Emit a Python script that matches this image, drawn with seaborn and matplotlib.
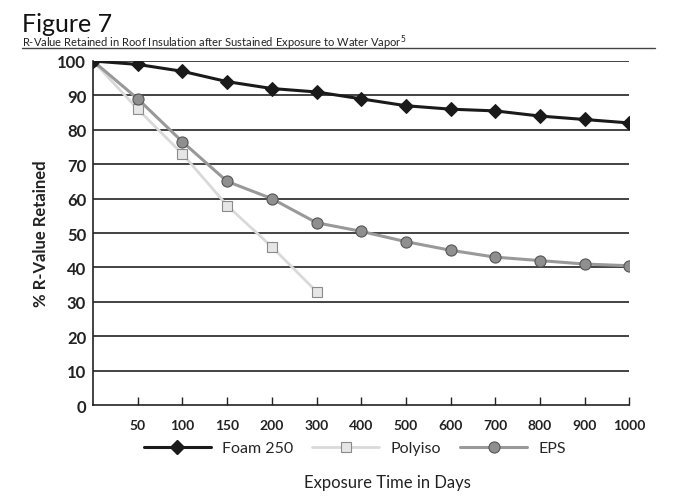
import matplotlib
matplotlib.use("Agg")
import matplotlib.pyplot as plt
import seaborn as sns
import numpy as np
import pandas as pd
from matplotlib.lines import Line2D

days = ["0", "50", "100", "150", "200", "300", "400", "500", "600", "700", "800", "900", "1000"]
foam250 = [100, 99, 97, 94, 92, 91, 89, 87, 86, 85.5, 84, 83, 82]
polyiso = [100, 86, 73, 58, 46, 33]
eps = [100, 89, 76.5, 65, 60, 53, 50.5, 47.5, 45, 43, 42, 41, 40.5]
yticks = [0, 10, 20, 30, 40, 50, 60, 70, 80, 90, 100]

sns.set_theme(style="white")
plt.rcParams["font.family"] = ["Lato", "DejaVu Sans"]

fig = plt.figure(figsize=(7.0, 5.02), dpi=100)
ax = fig.add_axes([0.133, 0.191, 0.766, 0.6855])

pos = np.arange(len(days))
df_f = pd.DataFrame({"x": pos, "y": foam250})
df_p = pd.DataFrame({"x": pos[:len(polyiso)], "y": polyiso})
df_e = pd.DataFrame({"x": pos, "y": eps})

for v in yticks[1:]:
    ax.axhline(v, color="#222222", lw=1.2, zorder=1)

sns.lineplot(data=df_p, x="x", y="y", ax=ax, color="#d9d9d9", lw=2, marker="s",
             markersize=7, markerfacecolor="#e6e6e6", markeredgecolor="#8a8a8a",
             markeredgewidth=0.8, zorder=3)
sns.lineplot(data=df_e, x="x", y="y", ax=ax, color="#999999", lw=2.2, marker="o",
             markersize=8, markerfacecolor="#8f8f8f", markeredgecolor="#555555",
             markeredgewidth=0.8, zorder=4)
sns.lineplot(data=df_f, x="x", y="y", ax=ax, color="#1a1a1a", lw=2.2, marker="D",
             markersize=7, markerfacecolor="#1a1a1a", markeredgecolor="#1a1a1a", zorder=5)

ax.set_xlim(0, len(days) - 1)
ax.set_ylim(0, 100)
ax.set_xticks(pos[1:])
ax.set_xticklabels(days[1:], fontsize=10, fontweight="bold", color="#222222")
ax.set_yticks(yticks)
ax.set_yticklabels([str(v) for v in yticks], fontsize=12, fontweight="bold", color="#222222")
ax.tick_params(axis="x", direction="in", length=6, width=1, color="#222222", pad=10, bottom=True)
ax.tick_params(axis="y", length=0, pad=5)
for s in ["top", "right"]:
    ax.spines[s].set_visible(False)
for s in ["left", "bottom"]:
    ax.spines[s].set_color("#222222")
    ax.spines[s].set_linewidth(1.2)
ax.set_xlabel("")
ax.set_ylabel("% R-Value Retained", fontsize=12, fontweight="bold", color="#222222", labelpad=6)

handles = [
    Line2D([], [], color="#1a1a1a", lw=2.2, marker="D", markersize=7, markerfacecolor="#1a1a1a"),
    Line2D([], [], color="#d9d9d9", lw=2, marker="s", markersize=7, markerfacecolor="#e6e6e6",
           markeredgecolor="#8a8a8a", markeredgewidth=0.8),
    Line2D([], [], color="#999999", lw=2.2, marker="o", markersize=8, markerfacecolor="#8f8f8f",
           markeredgecolor="#555555", markeredgewidth=0.8),
]
fig.legend(handles, ["Foam 250", "Polyiso", "EPS"], loc="center", bbox_to_anchor=(0.507, 0.105),
           ncol=3, frameon=False, fontsize=11.5, handlelength=4.2, columnspacing=1.2,
           handletextpad=0.7)

fig.text(0.553, 0.038, "Exposure Time in Days", ha="center", va="center", fontsize=12, color="#222222")
fig.text(0.031, 0.952, "Figure 7", ha="left", va="center", fontsize=18, color="#111111")
fig.text(0.031, 0.914, "R-Value Retained in Roof Insulation after Sustained Exposure to Water Vapor$^5$",
         ha="left", va="center", fontsize=8, color="#222222")
fig.add_artist(Line2D([0.031, 0.936], [0.903, 0.903], transform=fig.transFigure, color="#444444", lw=1))

fig.savefig("out.png", dpi=100)
